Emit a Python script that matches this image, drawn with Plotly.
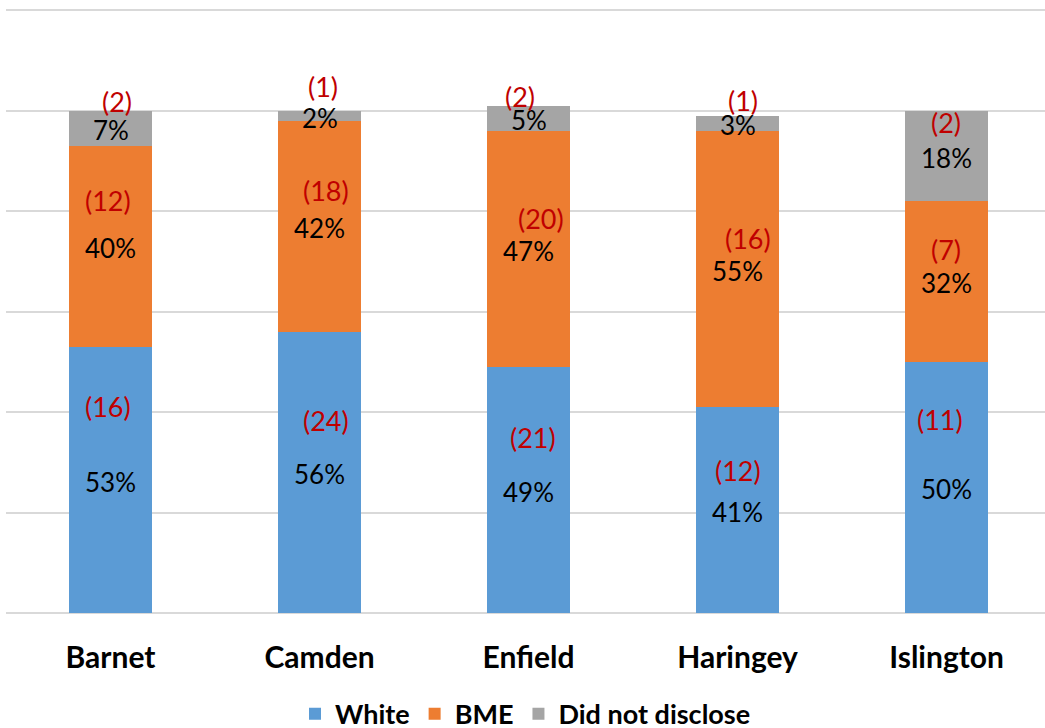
import plotly.graph_objects as go

# Boroughs and ethnicity breakdown (percent of respondents, with head counts)
boroughs = ["Barnet", "Camden", "Enfield", "Haringey", "Islington"]
series_names = ["White", "BME", "Did not disclose"]
white_pct = [53, 56, 49, 41, 50]
bme_pct = [40, 42, 47, 55, 32]
dnd_pct = [7, 2, 5, 3, 18]
white_n = [16, 24, 21, 12, 11]
bme_n = [12, 18, 20, 16, 7]
dnd_n = [2, 1, 2, 1, 2]

colors = ["#5B9BD5", "#ED7D31", "#A5A5A5"]
count_color = "#C00000"
font_family = "Lato, 'Open Sans', sans-serif"

# Pixel nudges for the bracketed head-count labels (dx, dy)
white_nudge = [(-3, 73), (6, 52), (4, 52), (0, 39), (-7, 68)]
bme_nudge = [(-3, 46), (6, 36), (12, 30), (10, 30), (-1, 32)]
dnd_nudge = [(6, 27), (3, 29), (-9, 22), (5, 23), (-1, 33)]

pcts = [white_pct, bme_pct, dnd_pct]
counts = [white_n, bme_n, dnd_n]
nudges = [white_nudge, bme_nudge, dnd_nudge]

fig = go.Figure()
for name, vals, col in zip(series_names, pcts, colors):
    fig.add_trace(go.Bar(
        name=name, x=boroughs, y=vals,
        marker=dict(color=col, line=dict(width=0)),
        width=0.4, hoverinfo="skip",
    ))

annotations = []
base = [0] * len(boroughs)
for vals, ns, nud in zip(pcts, counts, nudges):
    for i, b in enumerate(boroughs):
        mid = base[i] + vals[i] / 2
        annotations.append(dict(
            x=b, y=mid, text=f"{vals[i]}%", showarrow=False, yshift=-2,
            font=dict(family=font_family, size=26, color="#000000"),
        ))
        dx, dy = nud[i]
        annotations.append(dict(
            x=b, y=mid, text=f"({ns[i]})", showarrow=False,
            xshift=dx, yshift=dy,
            font=dict(family=font_family, size=27, color=count_color),
        ))
        base[i] += vals[i]

fig.update_layout(
    barmode="stack",
    width=1045, height=728,
    margin=dict(l=6, r=0, t=5, b=115, autoexpand=False),
    paper_bgcolor="white", plot_bgcolor="white",
    showlegend=True,
    legend=dict(
        orientation="h", x=0.5, xanchor="center",
        yref="container", y=0.019, yanchor="middle",
        font=dict(family=font_family, size=27, color="#000000", weight="bold"),
        traceorder="normal", itemclick=False, itemwidth=30,
    ),
    annotations=annotations,
)
fig.update_xaxes(
    range=[-0.5, 4.471], showgrid=False, showline=False, zeroline=False,
    ticks="", ticklabelstandoff=24,
    tickfont=dict(family=font_family, size=30, color="#000000", weight="bold"),
)
fig.update_yaxes(
    range=[0, 121], tickvals=[0, 20, 40, 60, 80, 100, 120],
    showticklabels=False, ticks="",
    showgrid=True, gridcolor="#D9D9D9", gridwidth=2,
    zeroline=True, zerolinecolor="#D9D9D9", zerolinewidth=2, showline=False,
)

fig.write_html("out.html")
